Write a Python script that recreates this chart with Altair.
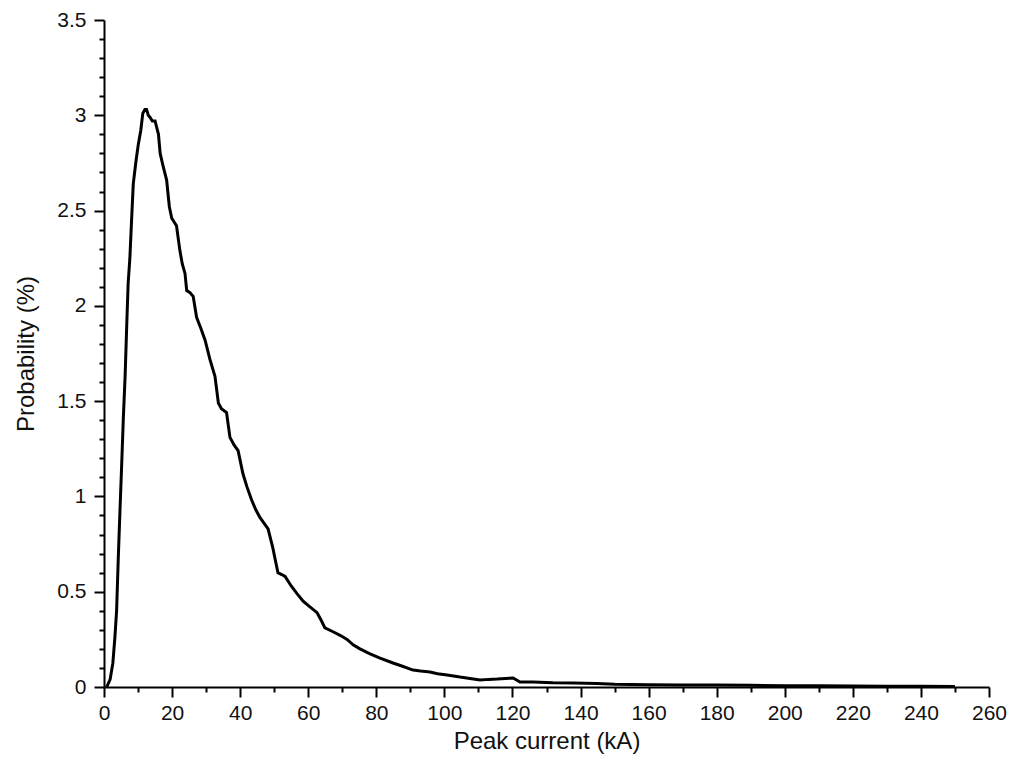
import altair as alt
import pandas as pd

# Peak current (kA)
peak_current = [0.8, 1.8, 2.6, 3.2, 3.7, 4.2, 4.7, 5.2, 5.7, 6.2,
                6.7, 7.1, 7.6, 8.1, 8.6, 9.4, 10.1, 10.8, 11.4, 12.0,
                12.5, 13.0, 13.5, 14.2, 15.0, 16.0, 16.5, 17.4, 18.4, 19.2,
                19.9, 21.3, 22.3, 23.0, 23.8, 24.3, 25.2, 26.2, 27.2, 28.5,
                29.7, 31.1, 32.6, 33.6, 34.5, 36.0, 37.0, 38.2, 39.4, 40.8,
                42.0, 43.4, 44.6, 45.8, 47.0, 48.2, 49.6, 50.4, 51.1, 52.2,
                53.2, 55.0, 56.7, 58.5, 60.5, 62.6, 63.8, 64.9, 67.3, 69.5,
                71.4, 73.3, 75.2, 78.0, 81.1, 84.9, 87.5, 90.8, 93.0, 95.8,
                98.0, 100.8, 104.6, 107.5, 110.5, 113.0, 115.5, 118.0, 120.2, 122.2,
                126.0, 131.9, 138.0, 144.8, 150, 160, 170, 180, 190, 200,
                210, 220, 230, 240, 250]

# Probability (%)
probability = [0, 0.04, 0.125, 0.26, 0.40, 0.68, 0.93, 1.17, 1.42, 1.63,
               1.91, 2.12, 2.25, 2.45, 2.64, 2.76, 2.85, 2.92, 3.01, 3.03,
               3.03, 3.00, 2.99, 2.97, 2.97, 2.90, 2.80, 2.73, 2.66, 2.52,
               2.46, 2.42, 2.29, 2.22, 2.17, 2.08, 2.07, 2.05, 1.94, 1.88,
               1.82, 1.72, 1.63, 1.49, 1.46, 1.44, 1.31, 1.27, 1.24, 1.12,
               1.05, 0.98, 0.93, 0.89, 0.86, 0.83, 0.73, 0.66, 0.60, 0.59,
               0.58, 0.53, 0.49, 0.45, 0.42, 0.39, 0.35, 0.31, 0.29, 0.27,
               0.25, 0.22, 0.20, 0.175, 0.152, 0.126, 0.11, 0.089, 0.084, 0.079,
               0.07, 0.063, 0.052, 0.045, 0.037, 0.04, 0.042, 0.045, 0.047, 0.026,
               0.026, 0.022, 0.021, 0.019, 0.015, 0.012, 0.011, 0.01, 0.009, 0.007,
               0.006, 0.005, 0.004, 0.004, 0.003]

x_major = [0, 20, 40, 60, 80, 100, 120, 140, 160, 180, 200, 220, 240, 260]
x_minor = [10, 30, 50, 70, 90, 110, 130, 150, 170, 190, 210, 230, 250]
y_major = [0, 0.5, 1, 1.5, 2, 2.5, 3, 3.5]
y_minor = [0.1, 0.2, 0.3, 0.4, 0.6, 0.7, 0.8, 0.9, 1.1, 1.2, 1.3, 1.4,
           1.6, 1.7, 1.8, 1.9, 2.1, 2.2, 2.3, 2.4, 2.6, 2.7, 2.8, 2.9,
           3.1, 3.2, 3.3, 3.4]

df = pd.DataFrame({"x": peak_current, "y": probability})

FONT = "Liberation Sans"
xscale = alt.Scale(domain=[0, 260], nice=False, zero=False)
yscale = alt.Scale(domain=[0, 3.5], nice=False, zero=False)

main = alt.Chart(df).mark_line(color="black", strokeWidth=3).encode(
    x=alt.X("x:Q", scale=xscale, axis=alt.Axis(
        values=x_major, title="Peak current (kA)", format="d",
        tickSize=10, tickWidth=2, domainWidth=2, domainColor="black", tickColor="black",
        labelFont=FONT, labelFontSize=21, labelColor="#111", labelPadding=5,
        titleFont=FONT, titleFontSize=24, titleFontWeight="normal", titleColor="#111",
        titlePadding=6, grid=False, labelFlush=False, labelOverlap=False)),
    y=alt.Y("y:Q", scale=yscale, axis=alt.Axis(
        values=y_major, title="Probability (%)", format="~g",
        tickSize=10, tickWidth=2, domainWidth=2, domainColor="black", tickColor="black",
        labelFont=FONT, labelFontSize=21, labelColor="#111", labelPadding=8,
        titleFont=FONT, titleFontSize=24, titleFontWeight="normal", titleColor="#111",
        titlePadding=18, grid=False, labelFlush=False, labelOverlap=False)),
)

minor = alt.Chart(df).mark_line(opacity=0).encode(
    x=alt.X("x:Q", scale=xscale, axis=alt.Axis(
        orient="bottom", values=x_minor, labels=False, title=None, domain=False,
        tickSize=5, tickWidth=2, tickColor="black", grid=False)),
    y=alt.Y("y:Q", scale=yscale, axis=alt.Axis(
        orient="left", values=y_minor, labels=False, title=None, domain=False,
        tickSize=5, tickWidth=2, tickColor="black", grid=False)),
)

chart = alt.layer(main, minor).resolve_axis(x="independent", y="independent").properties(
    width=885, height=667,
    autosize=alt.AutoSizeParams(type="none"),
    padding={"left": 96, "top": 12, "right": 20, "bottom": 70},
).configure(background="white", view=alt.ViewConfig(stroke=None))

chart.save("out.html", embed_options={"renderer": "svg", "actions": False})
